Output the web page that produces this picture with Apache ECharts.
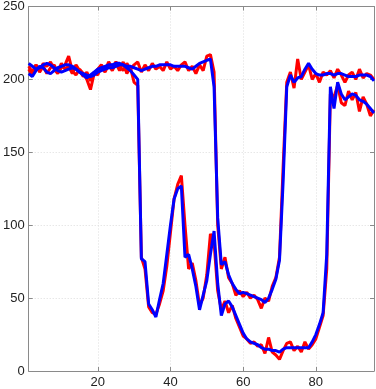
<!DOCTYPE html>
<html>
<head>
<meta charset="utf-8">
<script src="https://cdn.jsdelivr.net/npm/echarts@6/dist/echarts.min.js"></script>
<style>
  html, body { margin: 0; padding: 0; background: #fff; }
  #main { width: 376px; height: 389px; }
</style>
</head>
<body>
<div id="main"></div>
<script>
// sample index 1..96
var xs = [];
for (var i = 1; i <= 96; i++) xs.push(i);

// noisy signals (red)
var redA = [209, 205, 210, 206, 211, 209, 212, 207, 204, 208, 210, 216, 206, 203, 207, 204, 200, 193, 204, 207,
  210, 206, 212, 208, 212, 209, 206, 211, 207, 210, 212, 205, 210, 206, 211, 207, 209, 206, 212, 207,
  209, 206, 210, 212, 206, 209, 204, 210, 206, 216, 217, 205, 100, 70, 78, 64, 60, 52, 55, 51,
  54, 50, 52, 49, 43, 50, 48, 58, 64, 78, 140, 198, 205, 194, 214, 200, 205, 210, 200, 204,
  198, 205, 203, 206, 201, 207, 203, 198, 203, 205, 200, 207, 201, 204, 203, 200];
var redB = [207, 203, 210, 205, 209, 204, 208, 210, 205, 211, 207, 209, 204, 210, 206, 202, 205, 199, 205, 203,
  209, 205, 210, 206, 211, 206, 212, 204, 208, 198, 196, 78, 70, 44, 40, 39, 46, 55, 72, 95,
  118, 128, 134, 100, 70, 74, 62, 45, 50, 66, 94, 88, 55, 42, 48, 40, 45, 36, 30, 24,
  22, 19, 20, 17, 18, 12, 23, 13, 11, 8, 14, 19, 20, 14, 17, 13, 20, 15, 18, 22,
  30, 38, 70, 190, 188, 196, 184, 182, 192, 186, 191, 178, 188, 183, 175, 179];

// smoothed signals (blue)
var blueA = [211, 209, 207, 208, 210, 211, 210, 208, 206, 205, 206, 207, 208, 207, 205, 203, 201, 203, 205, 207,
  208, 209, 210, 210, 211, 211, 210, 209, 209, 208, 207, 206, 207, 208, 209, 209, 210, 210, 210, 210,
  209, 209, 209, 209, 208, 207, 209, 211, 212, 213, 214, 195, 105, 73, 75, 66, 60, 56, 53, 54,
  53, 52, 51, 50, 49, 47, 50, 56, 63, 76, 130, 195, 203, 198, 201, 202, 207, 211, 207, 204,
  203, 203, 204, 204, 203, 204, 204, 203, 202, 202, 202, 203, 203, 203, 202, 199];
var blueB = [204, 202, 206, 209, 208, 205, 204, 206, 208, 209, 210, 210, 209, 207, 205, 204, 203, 202, 203, 205,
  206, 207, 208, 208, 209, 210, 210, 208, 206, 203, 200, 77, 75, 46, 42, 37, 49, 60, 80, 100,
  118, 125, 127, 78, 80, 70, 58, 42, 52, 62, 80, 96, 60, 38, 46, 48, 44, 38, 32, 26,
  22, 20, 19, 18, 16, 15, 15, 14, 14, 13, 15, 16, 16, 16, 16, 16, 16, 16, 20, 25,
  32, 40, 80, 195, 180, 198, 190, 186, 188, 190, 189, 186, 185, 183, 180, 177];

var yTicks = [0, 50, 100, 150, 200, 250];

function pairs(ys) {
  return xs.map(function (x, k) { return [x, ys[k]]; });
}

var axisGray = '#8a8a8a';
var font = 'Liberation Sans, Arial, sans-serif';

function line(name, ys, color) {
  return {
    name: name,
    type: 'line',
    data: pairs(ys),
    symbol: 'none',
    lineStyle: { color: color, width: 3 },
    animation: false
  };
}

var chart = echarts.init(document.getElementById('main'));
chart.setOption({
  animation: false,
  grid: { left: 26, right: 2, top: 4, bottom: 17 },
  xAxis: [{
    type: 'value',
    min: 1,
    max: 96,
    axisLine: { show: true, lineStyle: { color: axisGray, width: 1 } },
    axisTick: { show: true, inside: true, length: 4, lineStyle: { color: axisGray } },
    axisLabel: {
      color: '#222', fontSize: 13, fontFamily: font, margin: 5,
      showMinLabel: false, showMaxLabel: false
    },
    splitLine: { show: true, lineStyle: { color: '#dcdcdc', type: [1, 2], width: 1 } }
  }, {
    type: 'value',
    position: 'top',
    min: 1,
    max: 96,
    axisLine: { show: true, onZero: false, lineStyle: { color: axisGray, width: 1 } },
    axisTick: { show: true, inside: true, length: 4, lineStyle: { color: axisGray } },
    axisLabel: { show: false },
    splitLine: { show: false }
  }],
  yAxis: [{
    type: 'value',
    min: yTicks[0],
    max: yTicks[yTicks.length - 1],
    interval: 50,
    axisLine: { show: true, lineStyle: { color: axisGray, width: 1 } },
    axisTick: { show: true, inside: true, length: 4, lineStyle: { color: axisGray } },
    axisLabel: { color: '#222', fontSize: 13, fontFamily: font, margin: 4 },
    splitLine: { show: true, lineStyle: { color: '#dcdcdc', type: [1, 2], width: 1 } }
  }, {
    type: 'value',
    position: 'right',
    min: yTicks[0],
    max: yTicks[yTicks.length - 1],
    interval: 50,
    axisLine: { show: true, onZero: false, lineStyle: { color: axisGray, width: 1 } },
    axisTick: { show: true, inside: true, length: 4, lineStyle: { color: axisGray } },
    axisLabel: { show: false },
    splitLine: { show: false }
  }],
  series: [
    line('redA', redA, '#ff0000'),
    line('redB', redB, '#ff0000'),
    line('blueA', blueA, '#0000ff'),
    line('blueB', blueB, '#0000ff')
  ]
});
</script>
</body>
</html>
